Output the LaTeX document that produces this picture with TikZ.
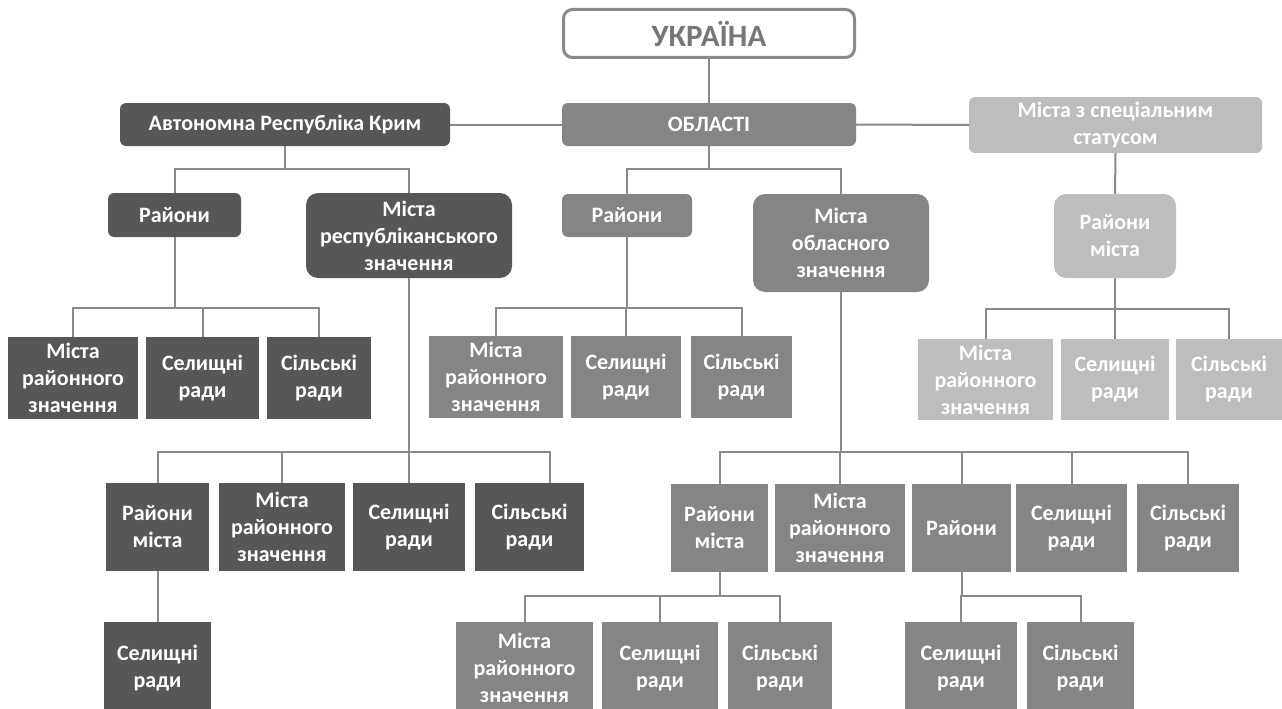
\documentclass[tikz,border=0pt]{standalone}
\usepackage{fontspec}
\setmainfont{Carlito}
\definecolor{regdark}{HTML}{575757}
\definecolor{regmid}{HTML}{858585}
\definecolor{reglight}{HTML}{BDBDBD}
\definecolor{linkgray}{HTML}{8A8A8A}
\definecolor{titlegray}{HTML}{777777}

\begin{document}
\begin{tikzpicture}[x=1pt,y=-1pt,
  regbox/.style={rectangle, inner sep=0pt, align=center, text=white, font=\fontsize{22}{27}\selectfont\bfseries},
  darkbox/.style={regbox, fill=regdark},
  midbox/.style={regbox, fill=regmid},
  lightbox/.style={regbox, fill=reglight},
  smallrnd/.style={rounded corners=6pt},
  bigrnd/.style={rounded corners=12pt},
  sz/.style 2 args={minimum width=#1pt, minimum height=#2pt},
  link/.style={draw=linkgray, line width=2pt}]
  \clip (0,0) rectangle (1282,709);
  \fill[white] (0,0) rectangle (1282,709);

  % top level
  \node[draw=linkgray, line width=3pt, rounded corners=9pt, sz={291}{48}, text=titlegray,
        font=\fontsize{31}{36}\selectfont\bfseries] (ua) at (709,33.5) {УКРАЇНА};
  \node[darkbox, smallrnd, sz={330}{43}] (crimea) at (285,124.5) {Автономна Республіка Крим};
  \node[midbox, smallrnd, sz={294}{43}] (obl) at (709,124.5) {ОБЛАСТІ};
  \node[lightbox, smallrnd, sz={293}{56}] (spec) at (1115.5,125) {Міста з спеціальним\\статусом};

  % second level
  \node[darkbox, smallrnd, sz={133}{44}] (crRay) at (174.5,215) {Райони};
  \node[darkbox, bigrnd, sz={206}{85}] (crMist) at (409,235.5) {Міста\\республіканського\\значення};
  \node[midbox, smallrnd, sz={130}{43}] (oRay) at (627,215.5) {Райони};
  \node[midbox, bigrnd, sz={176}{98}] (oMist) at (841,243) {Міста\\обласного\\значення};
  \node[lightbox, bigrnd, sz={122}{84}] (sRay) at (1115,236) {Райони\\міста};

  % under the districts
  \node[darkbox, sz={130}{82}] (a1) at (73,378) {Міста\\районного\\значення};
  \node[darkbox, sz={113}{82}] (a2) at (202.5,378) {Селищні\\ради};
  \node[darkbox, sz={104}{82}] (a3) at (319,378) {Сільські\\ради};
  \node[midbox, sz={134}{82}] (b1) at (496,377) {Міста\\районного\\значення};
  \node[midbox, sz={110}{82}] (b2) at (626,377) {Селищні\\ради};
  \node[midbox, sz={101}{82}] (b3) at (741.5,377) {Сільські\\ради};
  \node[lightbox, sz={135}{81}] (c1) at (985.5,379.5) {Міста\\районного\\значення};
  \node[lightbox, sz={108}{81}] (c2) at (1115,379.5) {Селищні\\ради};
  \node[lightbox, sz={106}{81}] (c3) at (1229,379.5) {Сільські\\ради};

  % under the cities
  \node[darkbox, sz={103}{88}] (d1) at (157.5,527) {Райони\\міста};
  \node[darkbox, sz={126}{88}] (d2) at (282,527) {Міста\\районного\\значення};
  \node[darkbox, sz={112}{88}] (d3) at (409,527) {Селищні\\ради};
  \node[darkbox, sz={109}{88}] (d4) at (529.5,527) {Сільські\\ради};
  \node[midbox, sz={97}{88}] (e1) at (719.5,528) {Райони\\міста};
  \node[midbox, sz={130}{88}] (e2) at (840,528) {Міста\\районного\\значення};
  \node[midbox, sz={99}{88}] (e3) at (961.5,528) {Райони};
  \node[midbox, sz={111}{88}] (e4) at (1071.5,528) {Селищні\\ради};
  \node[midbox, sz={102}{88}] (e5) at (1188,528) {Сільські\\ради};

  % bottom row
  \node[darkbox, sz={107}{92}] (f1) at (157.5,668) {Селищні\\ради};
  \node[midbox, sz={137}{92}] (g1) at (524.5,668) {Міста\\районного\\значення};
  \node[midbox, sz={116}{92}] (g2) at (660,668) {Селищні\\ради};
  \node[midbox, sz={104}{92}] (g3) at (780,668) {Сільські\\ради};
  \node[midbox, sz={112}{92}] (h1) at (961,668) {Селищні\\ради};
  \node[midbox, sz={107}{92}] (h2) at (1080.5,668) {Сільські\\ради};

  % connectors
  \draw[link] (ua.south) -- (obl.north);
  \draw[link] (crimea.east) -- (obl.west);
  \draw[link] (obl.east) -- (spec.west);
  \draw[link] (spec.south) -- (sRay.north);
  \foreach \c in {crRay,crMist} \draw[link] (crimea.south) -- ++(0,23) -| (\c.north);
  \foreach \c in {oRay,oMist} \draw[link] (obl.south) -- ++(0,23) -| (\c.north);
  \foreach \c in {a1,a2,a3} \draw[link] (crRay.south) -- ++(0,71) -| (\c.north);
  \foreach \c in {b1,b2,b3} \draw[link] (oRay.south) -- ++(0,71) -| (\c.north);
  \foreach \c in {c1,c2,c3} \draw[link] (sRay.south) -- ++(0,31) -| (\c.north);
  \foreach \c in {d1,d2,d3} \draw[link] (crMist.south) -- ++(0,174) -| (\c.north);
  \draw[link] (crMist.south) -- ++(0,174) -| ([xshift=20.5pt]d4.north);
  \foreach \c in {e1,e2,e3,e4,e5} \draw[link] (oMist.south) -- ++(0,160) -| (\c.north);
  \draw[link] (d1.south) -- (f1.north);
  \foreach \c in {g1,g2,g3} \draw[link] (e1.south) -- ++(0,24) -| (\c.north);
  \foreach \c in {h1,h2} \draw[link] (e3.south) -- ++(0,24) -| (\c.north);
\end{tikzpicture}
\end{document}
